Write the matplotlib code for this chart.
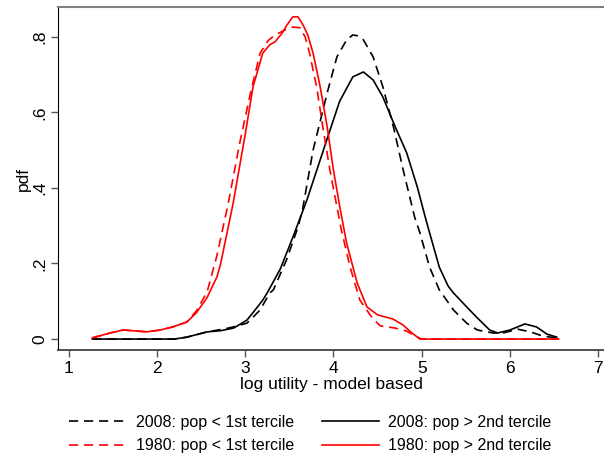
# Density of log utility by population tercile, 1980 vs 2008
import numpy as np
import matplotlib.pyplot as plt
from matplotlib.lines import Line2D

plt.rcParams['font.family'] = ['Liberation Sans', 'DejaVu Sans']

# 2008: pop < 1st tercile (black dashed)
x_08_low = [1.27, 1.8, 2.2, 2.34, 2.57, 2.79, 2.9, 3.02, 3.09, 3.17, 3.28, 3.32, 3.47, 3.6, 3.65,
            3.77, 3.93, 4.04, 4.15, 4.22, 4.27, 4.34, 4.45, 4.56, 4.68, 4.79, 4.92, 4.98,
            5.09, 5.2, 5.36, 5.51, 5.63, 5.81, 5.92, 6.09, 6.23, 6.37, 6.53]
y_08_low = [0.0, 0.0, 0.0, 0.005, 0.019, 0.028, 0.034, 0.042, 0.058, 0.077, 0.122, 0.13, 0.21, 0.297, 0.342,
            0.5, 0.652, 0.747, 0.792, 0.805, 0.803, 0.792, 0.747, 0.668, 0.562, 0.448, 0.323, 0.281,
            0.19, 0.13, 0.077, 0.042, 0.024, 0.016, 0.016, 0.026, 0.019, 0.008, 0.003]

# 2008: pop > 2nd tercile (black solid)
x_08_high = [1.27, 1.8, 2.2, 2.34, 2.57, 2.72, 2.87, 3.02, 3.09, 3.2, 3.25, 3.4, 3.55, 3.7,
             3.85, 4.07, 4.22, 4.34, 4.45, 4.56, 4.7, 4.83, 4.95, 5.04, 5.09, 5.2, 5.3, 5.36,
             5.51, 5.63, 5.77, 5.86, 6.0, 6.17, 6.3, 6.42, 6.53]
y_08_high = [0.0, 0.0, 0.0, 0.005, 0.019, 0.022, 0.029, 0.05, 0.07, 0.103, 0.122, 0.186, 0.275, 0.368,
             0.474, 0.629, 0.694, 0.707, 0.686, 0.641, 0.562, 0.493, 0.403, 0.323, 0.281, 0.19, 0.14, 0.122,
             0.085, 0.056, 0.024, 0.016, 0.024, 0.04, 0.032, 0.013, 0.005]

# 1980: pop < 1st tercile (red dashed)
x_80_low = [1.27, 1.47, 1.62, 1.78, 1.89, 2.04, 2.18, 2.34, 2.45, 2.57, 2.68, 2.81, 2.94, 3.06,
            3.17, 3.26, 3.34, 3.45, 3.54, 3.62, 3.68, 3.73, 3.81, 3.88, 3.96, 4.04, 4.09,
            4.19, 4.3, 4.44, 4.53, 4.7, 4.83, 4.95, 5.0, 6.55]
y_80_low = [0.003, 0.016, 0.024, 0.021, 0.019, 0.024, 0.032, 0.045, 0.075, 0.125, 0.22, 0.36, 0.52, 0.65,
            0.757, 0.79, 0.805, 0.818, 0.826, 0.824, 0.8, 0.757, 0.668, 0.562, 0.448, 0.35, 0.289,
            0.19, 0.103, 0.056, 0.035, 0.029, 0.021, 0.005, 0.0, 0.0]

# 1980: pop > 2nd tercile (red solid)
x_80_high = [1.27, 1.47, 1.62, 1.78, 1.89, 2.04, 2.18, 2.34, 2.45, 2.57, 2.68, 2.72, 2.79, 2.865,
             2.91, 3.0, 3.09, 3.2, 3.28, 3.34, 3.42, 3.47, 3.54, 3.6, 3.66, 3.71, 3.77, 3.85,
             3.93, 4.0, 4.075, 4.15, 4.27, 4.38, 4.5, 4.675, 4.79, 4.89, 4.98, 6.55]
y_80_high = [0.003, 0.016, 0.024, 0.021, 0.019, 0.024, 0.032, 0.045, 0.07, 0.11, 0.164, 0.196, 0.275, 0.36,
             0.42, 0.54, 0.668, 0.757, 0.779, 0.787, 0.81, 0.83, 0.853, 0.853, 0.83, 0.805, 0.757, 0.668,
             0.562, 0.448, 0.347, 0.254, 0.148, 0.085, 0.064, 0.053, 0.037, 0.016, 0.0, 0.0]

labels = ['2008: pop < 1st tercile', '2008: pop > 2nd tercile',
          '1980: pop < 1st tercile', '1980: pop > 2nd tercile']

x_ticks = [1, 2, 3, 4, 5, 6, 7]
y_ticks = [0, 0.2, 0.4, 0.6, 0.8]
y_ticklabels = ['0', '.2', '.4', '.6', '.8']

red = '#ff0000'
dash = (0, (5.5, 3.5))
lw = 1.2

fig = plt.figure(figsize=(6.04, 4.55), dpi=100)
ax = fig.add_axes([58 / 604, 105 / 455, 1.0 - 58 / 604, (350 - 7) / 455])

ax.plot(x_08_low, y_08_low, color='black', lw=lw, linestyle=dash)
ax.plot(x_08_high, y_08_high, color='black', lw=lw)
ax.plot(x_80_low, y_80_low, color=red, lw=lw, linestyle=dash)
ax.plot(x_80_high, y_80_high, color=red, lw=lw)

ax.set_xlim(0.881, 7.065)
ax.set_ylim(-0.029, 0.879)
ax.set_xticks(x_ticks)
ax.set_yticks(y_ticks)
ax.set_yticklabels(y_ticklabels, rotation=90, va='center')
ax.tick_params(axis='both', direction='out', length=5, width=1, color='#555555',
               labelsize=12.5, pad=3)

ax.spines['top'].set_color('#808080')
ax.spines['top'].set_linewidth(1.5)
ax.spines['right'].set_visible(False)
ax.spines['left'].set_color('black')
ax.spines['bottom'].set_color('#333333')
ax.spines['bottom'].set_linewidth(1.2)

ax.set_xlabel('log utility - model based', fontsize=12.5, labelpad=1)
ax.set_ylabel('pdf', fontsize=12.5, labelpad=1)

handles = [Line2D([], [], color='black', lw=lw, linestyle=dash),
           Line2D([], [], color='black', lw=lw),
           Line2D([], [], color=red, lw=lw, linestyle=dash),
           Line2D([], [], color=red, lw=lw)]
# order so that columns read row-wise
order = [0, 2, 1, 3]
fig.legend([handles[i] for i in order], [labels[i] for i in order],
           ncol=2, loc='center', bbox_to_anchor=(0.514, 0.046),
           frameon=False, fontsize=11.5, handlelength=3.6, handletextpad=0.55,
           columnspacing=1.75, labelspacing=0.55)

plt.savefig('out.png', dpi=100)
plt.close()
